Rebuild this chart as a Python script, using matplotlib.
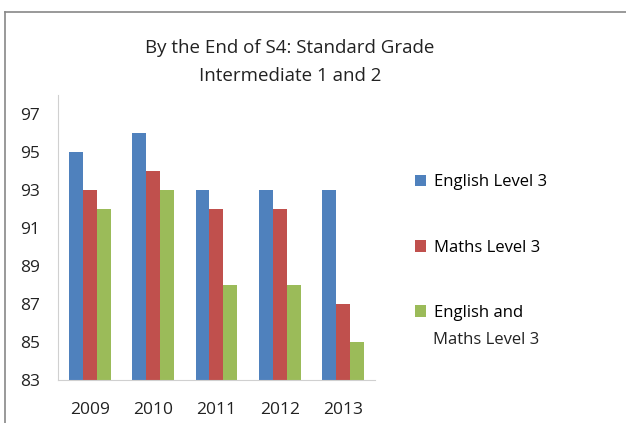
import matplotlib
matplotlib.use('Agg')
import matplotlib.pyplot as plt
from matplotlib.lines import Line2D
import numpy as np

plt.rcParams['font.family'] = ['Open Sans', 'DejaVu Sans']

years = ['2009', '2010', '2011', '2012', '2013']
english = [95, 96, 93, 93, 93]
maths = [93, 94, 92, 92, 87]
both = [92, 93, 88, 88, 85]
labels = ['English Level 3', 'Maths Level 3', 'English and']
colors = ['#4F81BD', '#C0504D', '#9BBB59']

fig = plt.figure(figsize=(6.26, 4.23), dpi=100)
ax = fig.add_axes([0.0927, 0.1017, 0.506, 0.673])

x = np.arange(len(years))
w = 0.22
bars = []
for i, (vals, c) in enumerate(zip([english, maths, both], colors)):
    b = ax.bar(x + (i - 1) * w, np.array(vals) - 83, bottom=83, width=w, color=c)
    bars.append(b)

ax.set_xlim(-0.5, 4.5)
ax.set_ylim(83, 98)
ax.set_yticks(range(83, 98, 2))
ax.set_xticks(x)
ax.set_xticklabels(years)
ax.tick_params(length=0, labelsize=12.5, colors='#222222')
ax.tick_params(axis='x', pad=16)
ax.tick_params(axis='y', pad=13)
for s in ['top', 'right']:
    ax.spines[s].set_visible(False)
for s in ['left', 'bottom']:
    ax.spines[s].set_color('#d0d0d0')

fig.text(0.463, 0.853, 'By the End of S4: Standard Grade\nIntermediate 1 and 2',
         ha='center', va='center', fontsize=13.5, linespacing=1.75, color='#222222')

leg = fig.legend(bars, labels, loc='upper left', bbox_to_anchor=(0.641, 0.619),
                 frameon=False, fontsize=12, handlelength=0.7, handleheight=0.7,
                 handletextpad=0.45, labelspacing=2.95, borderpad=0.3)
# second line of the third legend label
fig.text(0.6917, 1 - 340 / 423, 'Maths Level 3', ha='left', va='center',
         fontsize=12, color='#222222')

# chart frame (partially visible)
fig.add_artist(Line2D([0.008, 1.0], [0.972, 0.972], color='#888888', lw=1.2))
fig.add_artist(Line2D([0.008, 0.008], [0.0, 0.972], color='#888888', lw=1.2))

fig.savefig('out.png', dpi=100)
